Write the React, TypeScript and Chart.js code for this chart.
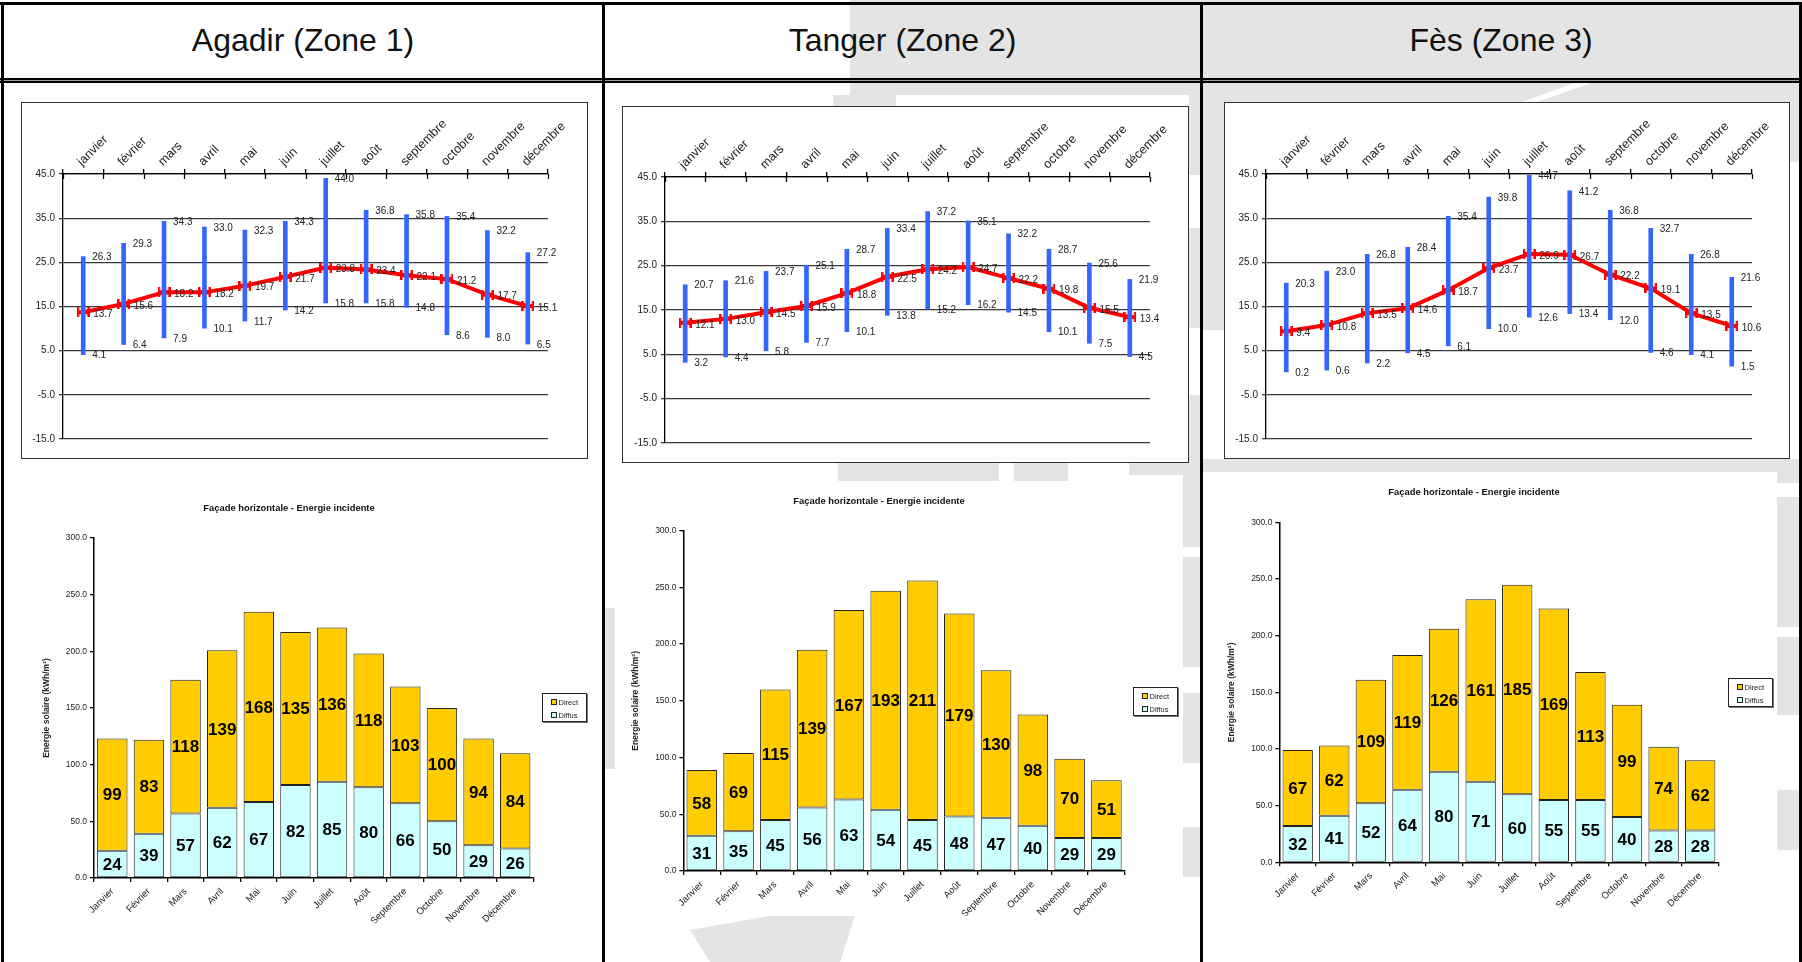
import React, { useEffect, useRef } from 'react';
import { Chart, registerables } from 'chart.js';

Chart.register(...registerables);
Chart.defaults.font.family = '"Liberation Sans", Arial, Helvetica, sans-serif';

// ---------- data ----------
const cities = ['Agadir (Zone 1)', 'Tanger (Zone 2)', 'Fès (Zone 3)'];
const tempMonths = ['janvier', 'février', 'mars', 'avril', 'mai', 'juin', 'juillet', 'août', 'septembre', 'octobre', 'novembre', 'décembre'];
const barMonths = ['Janvier', 'Février', 'Mars', 'Avril', 'Mai', 'Juin', 'Juillet', 'Août', 'Septembre', 'Octobre', 'Novembre', 'Décembre'];
const tempYTicks = [-15, -5, 5, 15, 25, 35, 45];
const barYTicks = [0, 50, 100, 150, 200, 250, 300];
const barTitle = 'Façade horizontale - Energie incidente';
const barYTitle = 'Energie solaire (kWh/m²)';
const seriesNames = ['Direct', 'Diffus'];

const agadirMax = [26.3, 29.3, 34.3, 33.0, 32.3, 34.3, 44.0, 36.8, 35.8, 35.4, 32.2, 27.2];
const agadirMean = [13.7, 15.6, 18.2, 18.2, 19.7, 21.7, 23.8, 23.4, 22.1, 21.2, 17.7, 15.1];
const agadirMin = [4.1, 6.4, 7.9, 10.1, 11.7, 14.2, 15.8, 15.8, 14.8, 8.6, 8.0, 6.5];
const tangerMax = [20.7, 21.6, 23.7, 25.1, 28.7, 33.4, 37.2, 35.1, 32.2, 28.7, 25.6, 21.9];
const tangerMean = [12.1, 13.0, 14.5, 15.9, 18.8, 22.5, 24.2, 24.7, 22.2, 19.8, 15.5, 13.4];
const tangerMin = [3.2, 4.4, 5.8, 7.7, 10.1, 13.8, 15.2, 16.2, 14.5, 10.1, 7.5, 4.5];
const fesMax = [20.3, 23.0, 26.8, 28.4, 35.4, 39.8, 44.7, 41.2, 36.8, 32.7, 26.8, 21.6];
const fesMean = [9.4, 10.8, 13.5, 14.6, 18.7, 23.7, 26.9, 26.7, 22.2, 19.1, 13.5, 10.6];
const fesMin = [0.2, 0.6, 2.2, 4.5, 6.1, 10.0, 12.6, 13.4, 12.0, 4.6, 4.1, 1.5];

const agadirDirect = [99, 83, 118, 139, 168, 135, 136, 118, 103, 100, 94, 84];
const agadirDiffus = [24, 39, 57, 62, 67, 82, 85, 80, 66, 50, 29, 26];
const tangerDirect = [58, 69, 115, 139, 167, 193, 211, 179, 130, 98, 70, 51];
const tangerDiffus = [31, 35, 45, 56, 63, 54, 45, 48, 47, 40, 29, 29];
const fesDirect = [67, 62, 109, 119, 126, 161, 185, 169, 113, 99, 74, 62];
const fesDiffus = [32, 41, 52, 64, 80, 71, 60, 55, 55, 40, 28, 28];

// ---------- styles ----------
const COL = { direct: '#ffcc00', diffus: '#ccffff', range: '#3366ff', mean: '#ff0000', wm: '#e4e4e4' };

// decorative watermark patches [x, y, w, h]
const watermark: number[][] = [
  [850, 0, 952, 95],
  [833, 95, 63, 11],
  [1203, 95, 599, 7],
  [1189, 83, 12, 92],
  [1189, 228, 12, 100],
  [1189, 395, 12, 70],
  [1203, 102, 21, 228],
  [1790, 102, 9, 60],
  [838, 463, 161, 18],
  [1014, 463, 54, 18],
  [1129, 463, 60, 12],
  [1203, 459, 599, 13],
  [1183, 463, 18, 84],
  [1183, 557, 18, 110],
  [1183, 693, 18, 70],
  [1183, 827, 18, 50],
  [605, 608, 10, 161],
  [1777, 472, 22, 11],
  [1777, 497, 22, 130],
  [1777, 637, 22, 78],
  [1777, 790, 22, 60],
];

function fixW(w: number) {
  return (s: any) => { s.width = w; s.paddingTop = 0; s.paddingBottom = 0; s.paddingLeft = 0; s.paddingRight = 0; };
}
function fixH(h: number) {
  return (s: any) => { s.height = h; s.paddingTop = 0; s.paddingBottom = 0; s.paddingLeft = 0; s.paddingRight = 0; };
}

const tempLabels = {
  id: 'tempLabels',
  afterDatasetsDraw(chart: any) {
    const ctx = chart.ctx;
    const ys = chart.scales.y;
    const bars = chart.getDatasetMeta(0).data;
    const pts = chart.getDatasetMeta(1).data;
    const rng = chart.data.datasets[0].data;
    const mean = chart.data.datasets[1].data;
    ctx.save();
    ctx.font = '10px "Liberation Sans", Arial, sans-serif';
    ctx.fillStyle = '#222';
    ctx.textAlign = 'left';
    ctx.textBaseline = 'middle';
    bars.forEach((el: any, i: number) => {
      const [lo, hi] = rng[i];
      ctx.fillText(hi.toFixed(1), el.x + 9, ys.getPixelForValue(hi) + 1);
      ctx.fillText(lo.toFixed(1), el.x + 9, ys.getPixelForValue(lo) + 1);
      const p = pts[i];
      ctx.fillText(Number(mean[i]).toFixed(1), p.x + 10, p.y + 2);
    });
    ctx.restore();
  },
};

const innerTicks = {
  id: 'innerTicks',
  afterDraw(chart: any) {
    const { ctx, chartArea: a } = chart;
    const n = chart.data.labels.length;
    ctx.save();
    ctx.strokeStyle = '#000';
    ctx.lineWidth = 1.3;
    for (let i = 0; i <= n; i++) {
      const x = Math.round(a.left + ((a.right - a.left) * i) / n) + 0.5;
      ctx.beginPath();
      ctx.moveTo(x, a.top);
      ctx.lineTo(x, a.top + 5);
      ctx.stroke();
    }
    ctx.restore();
  },
};

const barLabels = {
  id: 'barLabels',
  afterDatasetsDraw(chart: any) {
    const ctx = chart.ctx;
    ctx.save();
    ctx.font = 'bold 17px "Liberation Sans", Arial, sans-serif';
    ctx.fillStyle = '#000';
    ctx.textAlign = 'center';
    ctx.textBaseline = 'middle';
    chart.data.datasets.forEach((ds: any, di: number) => {
      chart.getDatasetMeta(di).data.forEach((el: any, i: number) => {
        const { x, y, base } = el.getProps(['x', 'y', 'base'], true);
        ctx.fillText(String(ds.data[i]), x, (y + base) / 2 + 1);
      });
    });
    ctx.restore();
  },
};

function makeMarker() {
  const c = document.createElement('canvas');
  c.width = 13;
  c.height = 10;
  const g = c.getContext('2d')!;
  g.fillStyle = COL.mean;
  g.fillRect(0, 3, 13, 4);
  g.fillRect(0, 0, 2.5, 10);
  g.fillRect(10.5, 0, 2.5, 10);
  return c;
}

type Pad = { left: number; right: number; top: number; bottom: number };

function TempChart(p: { left: number; top: number; width: number; height: number; pad: Pad; yW: number; xH: number; max: number[]; mean: number[]; min: number[] }) {
  const ref = useRef<HTMLCanvasElement>(null);
  const cw = p.width - 2;
  const ch = p.height - 2;
  useEffect(() => {
    const marker = makeMarker();
    const chart = new Chart(ref.current!, {
      type: 'bar',
      data: {
        labels: tempMonths,
        datasets: [
          { type: 'bar', label: 'min-max', data: p.min.map((v, i) => [v, p.max[i]]), backgroundColor: COL.range, barThickness: 4, order: 0 } as any,
          { type: 'line', label: 'moyenne', data: p.mean, borderColor: COL.mean, backgroundColor: COL.mean, borderWidth: 4, pointStyle: marker, pointRadius: 6, tension: 0, order: 1 } as any,
        ],
      },
      options: {
        responsive: false,
        animation: false,
        layout: { padding: p.pad },
        plugins: { legend: { display: false }, tooltip: { enabled: false } },
        scales: {
          x: {
            position: 'top',
            offset: true,
            grid: { offset: true, drawOnChartArea: false, color: '#000', lineWidth: 1.3, tickLength: 5 },
            border: { color: '#000', width: 1.3 },
            ticks: { minRotation: 45, maxRotation: 45, autoSkip: false, font: { size: 12.5 }, color: '#222', padding: 0, labelOffset: 7 },
            afterFit: fixH(p.xH),
          },
          y: {
            min: -15,
            max: 45,
            afterBuildTicks: (s: any) => { s.ticks = tempYTicks.map((v) => ({ value: v })); },
            grid: { color: '#3a3a3a', lineWidth: 1.3, tickLength: 4 },
            border: { color: '#000', width: 1.3 },
            ticks: { font: { size: 10 }, color: '#222', padding: 4, callback: (v: any) => Number(v).toFixed(1) },
            afterFit: fixW(p.yW),
          },
        } as any,
      },
      plugins: [tempLabels, innerTicks],
    });
    return () => chart.destroy();
  }, []);
  return (
    <div style={{ position: 'absolute', left: p.left, top: p.top, width: p.width, height: p.height, boxSizing: 'border-box', border: '1px solid #333', background: '#fff' }}>
      <canvas ref={ref} width={cw} height={ch} style={{ position: 'absolute', left: 0, top: 0, width: cw, height: ch }} />
    </div>
  );
}

function BarChart(p: { left: number; top: number; width: number; height: number; pad: Pad; yW: number; xH: number; direct: number[]; diffus: number[]; titleX: number; titleY: number; legend: { x: number; y: number } }) {
  const ref = useRef<HTMLCanvasElement>(null);
  useEffect(() => {
    const chart = new Chart(ref.current!, {
      type: 'bar',
      data: {
        labels: barMonths,
        datasets: [
          { label: seriesNames[1], data: p.diffus, backgroundColor: COL.diffus, borderColor: '#222', borderWidth: 1, borderSkipped: false },
          { label: seriesNames[0], data: p.direct, backgroundColor: COL.direct, borderColor: '#222', borderWidth: 1, borderSkipped: false },
        ],
      },
      options: {
        responsive: false,
        animation: false,
        layout: { padding: p.pad },
        datasets: { bar: { barPercentage: 0.83, categoryPercentage: 1 } },
        plugins: { legend: { display: false }, tooltip: { enabled: false } },
        scales: {
          x: {
            stacked: true,
            offset: true,
            grid: { offset: true, drawOnChartArea: false, color: '#000', lineWidth: 1.3, tickLength: 4 },
            border: { color: '#000', width: 1.5 },
            ticks: { minRotation: 45, maxRotation: 45, autoSkip: false, font: { size: 9.5 }, color: '#222', padding: 4 },
            afterFit: fixH(p.xH),
          },
          y: {
            stacked: true,
            min: 0,
            max: 300,
            afterBuildTicks: (s: any) => { s.ticks = barYTicks.map((v) => ({ value: v })); },
            grid: { drawOnChartArea: false, color: '#000', lineWidth: 1.3, tickLength: 4 },
            border: { color: '#000', width: 1.5 },
            ticks: { font: { size: 8.5 }, color: '#222', padding: 3, callback: (v: any) => Number(v).toFixed(1) },
            title: { display: true, text: barYTitle, font: { size: 8.5, weight: 'bold' }, color: '#222', padding: 0 },
            afterFit: fixW(p.yW),
          },
        } as any,
      },
      plugins: [barLabels],
    });
    return () => chart.destroy();
  }, []);
  const swatch = [COL.direct, COL.diffus];
  return (
    <>
      <canvas ref={ref} width={p.width} height={p.height} style={{ position: 'absolute', left: p.left, top: p.top, width: p.width, height: p.height, background: '#fff' }} />
      <div style={{ position: 'absolute', left: p.titleX - 150, top: p.titleY - 6, width: 300, textAlign: 'center', fontSize: 9.4, fontWeight: 'bold', color: '#111', lineHeight: '12px', whiteSpace: 'nowrap' }}>{barTitle}</div>
      <div style={{ position: 'absolute', left: p.legend.x, top: p.legend.y, width: 45, height: 29, boxSizing: 'border-box', border: '1px solid #222', boxShadow: '1px 1px 0 #777', background: '#fff' }}>
        {seriesNames.map((n, i) => (
          <div key={n} style={{ position: 'absolute', left: 8, top: 3.5 + i * 13, height: 9, display: 'flex', alignItems: 'center', fontSize: 7.5, color: '#222', lineHeight: '9px' }}>
            <span style={{ display: 'inline-block', width: 4, height: 4, border: '1px solid #222', background: swatch[i], marginRight: 1.5 }} />
            {n}
          </div>
        ))}
      </div>
    </>
  );
}

export default function App() {
  useEffect(() => { document.body.style.margin = '0'; }, []);
  const line = (l: number, t: number, w: number, h: number, c = '#000') => (
    <div style={{ position: 'absolute', left: l, top: t, width: w, height: h, background: c }} />
  );
  return (
    <div style={{ position: 'fixed', left: 0, top: 0, width: 1802, height: 962, overflow: 'hidden', background: '#fff', fontFamily: '"Liberation Sans", Arial, Helvetica, sans-serif' }}>
      {watermark.map((r, i) => (
        <div key={i} style={{ position: 'absolute', left: r[0], top: r[1], width: r[2], height: r[3], background: COL.wm }} />
      ))}
      <div style={{ position: 'absolute', left: 690, top: 900, width: 170, height: 62, background: COL.wm, clipPath: 'polygon(0 30px, 170px 0, 150px 62px, 20px 62px)' }} />
      <div style={{ position: 'absolute', left: 0, top: 83, width: 1802, height: 23, background: '#fff', clipPath: 'polygon(1574px 0, 1591px 0, 1526px 23px, 1511px 23px)' }} />

      {/* table borders */}
      {line(0, 2, 1802, 3)}
      {line(0, 78, 1802, 2)}
      {line(0, 80, 1802, 1, '#999')}
      {line(0, 81, 1802, 2)}
      {line(1, 2, 3, 960)}
      {line(602, 2, 3, 960)}
      {line(1200, 2, 3, 960)}
      {line(1799, 2, 3, 960)}

      {cities.map((c, i) => {
        const bounds = [[4, 602], [605, 1200], [1203, 1799]][i];
        return (
          <div key={c} style={{ position: 'absolute', left: bounds[0], top: 5, width: bounds[1] - bounds[0], height: 73, lineHeight: '70px', textAlign: 'center', fontSize: 32, color: '#111' }}>{c}</div>
        );
      })}

      <TempChart left={21} top={102} width={567} height={357} pad={{ left: 0, right: 39, top: 0, bottom: 19 }} yW={41} xH={71} max={agadirMax} mean={agadirMean} min={agadirMin} />
      <TempChart left={622} top={106} width={567} height={357} pad={{ left: 0, right: 38, top: 0, bottom: 19 }} yW={42} xH={70} max={tangerMax} mean={tangerMean} min={tangerMin} />
      <TempChart left={1224} top={102} width={566} height={357} pad={{ left: 0, right: 37, top: 0, bottom: 19 }} yW={41} xH={71} max={fesMax} mean={fesMean} min={fesMin} />

      <BarChart left={26} top={480} width={569} height={450} pad={{ left: 15.5, right: 61.5, top: 58, bottom: 7 }} yW={52.5} xH={45} direct={agadirDirect} diffus={agadirDiffus} titleX={289} titleY={508} legend={{ x: 542, y: 693 }} />
      <BarChart left={615} top={481} width={568} height={435} pad={{ left: 15.9, right: 58.2, top: 49.7, bottom: 0 }} yW={52.5} xH={45} direct={tangerDirect} diffus={tangerDiffus} titleX={879} titleY={501} legend={{ x: 1133, y: 687 }} />
      <BarChart left={1217} top={472} width={560} height={490} pad={{ left: 9.7, right: 58.5, top: 50.3, bottom: 54.7 }} yW={52.7} xH={45} direct={fesDirect} diffus={fesDiffus} titleX={1474} titleY={492} legend={{ x: 1728, y: 678 }} />
    </div>
  );
}
